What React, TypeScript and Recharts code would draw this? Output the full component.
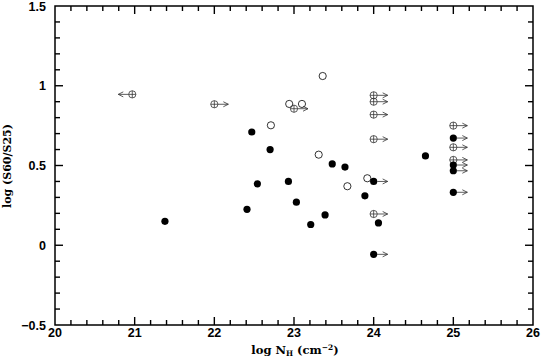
import { ScatterChart, Scatter, XAxis, YAxis, ReferenceArea } from "recharts";

type Pt = [number, number];

// log N_H vs log (S60/S25)
const detected: Pt[] = [
  [21.38, 0.15],
  [22.41, 0.225],
  [22.47, 0.71],
  [22.54, 0.385],
  [22.7, 0.6],
  [22.93, 0.4],
  [23.03, 0.27],
  [23.21, 0.13],
  [23.39, 0.19],
  [23.48, 0.51],
  [23.64, 0.49],
  [23.89, 0.31],
  [24.06, 0.14],
  [24.65, 0.56],
];

const detectedLower: Pt[] = [
  [24.0, 0.4],
  [24.0, -0.057],
  [25.0, 0.672],
  [25.0, 0.503],
  [25.0, 0.467],
  [25.0, 0.332],
];

const openPts: Pt[] = [
  [22.71, 0.752],
  [22.94, 0.886],
  [23.1, 0.886],
  [23.31, 0.568],
  [23.36, 1.061],
  [23.67, 0.37],
  [23.92, 0.42],
];

const crossedLower: Pt[] = [
  [22.0, 0.884],
  [23.0, 0.856],
  [24.0, 0.94],
  [24.0, 0.9],
  [24.0, 0.819],
  [24.0, 0.665],
  [24.0, 0.196],
  [25.0, 0.75],
  [25.0, 0.614],
  [25.0, 0.535],
];

const crossedUpper: Pt[] = [[20.97, 0.946]];

const X_DOMAIN: [number, number] = [20, 26];
const Y_DOMAIN: [number, number] = [-0.5, 1.5];
const xTickLabels = ["20", "21", "22", "23", "24", "25", "26"];
const yMajorTicks = [-0.5, 0, 0.5, 1, 1.5];
const yTickLabels = ["\u22120.5", "0", "0.5", "1", "1.5"];

const xTicks = Array.from({ length: 31 }, (_, i) => +(20 + i * 0.2).toFixed(1));
const yTicks = Array.from({ length: 21 }, (_, i) => +(-0.5 + i * 0.1).toFixed(1));

const toRows = (pts: Pt[]) => pts.map(([nh, r]) => ({ nh, r }));

const isMajorX = (v: number) => Math.abs(v - Math.round(v)) < 1e-6;
const majorYIndex = (v: number) => yMajorTicks.findIndex((m) => Math.abs(m - v) < 1e-6);

// inward tick marks on the top and right sides of the frame
const mirrorTicks = [
  ...xTicks.slice(1, -1).map((v) => ({ nh: v, r: Y_DOMAIN[1], dx: 0, dy: 1, major: isMajorX(v) })),
  ...yTicks.slice(1, -1).map((v) => ({ nh: X_DOMAIN[1], r: v, dx: -1, dy: 0, major: majorYIndex(v) >= 0 })),
];

const TICK_FONT = "'Liberation Sans', Arial, sans-serif";
const TITLE_FONT = "'DejaVu Serif', serif";
const R = 3.6;
const TICK_W = 1.4;

function XTick(props: any) {
  const x = Number(props.x);
  const y = Number(props.y);
  const v = Number(props.payload.value);
  const major = isMajorX(v);
  const edge = v <= X_DOMAIN[0] || v >= X_DOMAIN[1];
  return (
    <g>
      {!edge && <line x1={x} y1={y} x2={x} y2={y - (major ? 8 : 5)} stroke="#000" strokeWidth={TICK_W} />}
      {major && (
        <text x={x} y={y + 12} textAnchor="middle" fontFamily={TICK_FONT} fontWeight="bold" fontSize={12.5} fill="#000">
          {xTickLabels[Math.round(v) - 20]}
        </text>
      )}
    </g>
  );
}

function YTick(props: any) {
  const x = Number(props.x);
  const y = Number(props.y);
  const v = Number(props.payload.value);
  const mi = majorYIndex(v);
  const edge = v <= Y_DOMAIN[0] || v >= Y_DOMAIN[1];
  return (
    <g>
      {!edge && <line x1={x} y1={y} x2={x + (mi >= 0 ? 8 : 5)} y2={y} stroke="#000" strokeWidth={TICK_W} />}
      {mi >= 0 && (
        <text x={x - 9} y={y + 4.5} textAnchor="end" fontFamily={TICK_FONT} fontWeight="bold" fontSize={12.5} fill="#000">
          {yTickLabels[mi]}
        </text>
      )}
    </g>
  );
}

function TickMark(props: any) {
  const { cx, cy, payload } = props;
  if (cx == null || cy == null || !payload) return <g />;
  const len = payload.major ? 8 : 5;
  return (
    <line x1={cx} y1={cy} x2={cx + payload.dx * len} y2={cy + payload.dy * len} stroke="#000" strokeWidth={TICK_W} />
  );
}

function Arrow({ cx, cy, dir }: { cx: number; cy: number; dir: 1 | -1 }) {
  const tip = cx + dir * 14;
  return (
    <g stroke="#333" strokeWidth={0.8} fill="none">
      <line x1={cx + dir * R} y1={cy} x2={tip} y2={cy} />
      <polyline points={`${tip - dir * 5},${cy - 2.5} ${tip},${cy} ${tip - dir * 5},${cy + 2.5}`} />
    </g>
  );
}

function Marker(props: any & { kind: string; arrow?: 1 | -1 }) {
  const { cx, cy, kind, arrow } = props;
  if (cx == null || cy == null) return <g />;
  return (
    <g>
      {arrow ? <Arrow cx={cx} cy={cy} dir={arrow} /> : null}
      {kind === "filled" && <circle cx={cx} cy={cy} r={R} fill="#000" />}
      {kind === "open" && <circle cx={cx} cy={cy} r={R} fill="none" stroke="#000" strokeWidth={0.8} />}
      {kind === "crossed" && (
        <g stroke="#333" strokeWidth={0.8} fill="none">
          <circle cx={cx} cy={cy} r={R} />
          <line x1={cx - R} y1={cy} x2={cx + R} y2={cy} />
          <line x1={cx} y1={cy - R} x2={cx} y2={cy + R} />
        </g>
      )}
    </g>
  );
}

export default function App() {
  return (
    <div style={{ position: "absolute", left: 0, top: 0, background: "#fff" }}>
      <ScatterChart width={543} height={359} margin={{ top: 6, right: 10, bottom: 0, left: 0 }}>
        <XAxis
          dataKey="nh"
          type="number"
          domain={X_DOMAIN}
          ticks={xTicks}
          interval={0}
          height={34}
          tickSize={0}
          tickMargin={0}
          tickLine={false}
          axisLine={false}
          tick={(p: any) => <XTick {...p} />}
          label={{
            content: () => (
              <text x={295} y={354} textAnchor="middle" fontFamily={TITLE_FONT} fontWeight="bold" fontSize={11.5} fill="#000">
                log N<tspan fontSize={7.5} dy={2}>H</tspan>
                <tspan dy={-2}> (cm</tspan>
                <tspan fontSize={7.5} dy={-4.5}>{"\u22122"}</tspan>
                <tspan dy={4.5}>)</tspan>
              </text>
            ),
          }}
        />
        <YAxis
          dataKey="r"
          type="number"
          domain={Y_DOMAIN}
          ticks={yTicks}
          interval={0}
          width={55}
          tickSize={0}
          tickMargin={0}
          tickLine={false}
          axisLine={false}
          tick={(p: any) => <YTick {...p} />}
          label={{
            content: () => (
              <text
                x={11}
                y={166}
                transform="rotate(-90 11 166)"
                textAnchor="middle"
                fontFamily={TITLE_FONT}
                fontWeight="bold"
                fontSize={11}
                fill="#000"
              >
                log (S60/S25)
              </text>
            ),
          }}
        />
        <ReferenceArea
          x1={X_DOMAIN[0]}
          x2={X_DOMAIN[1]}
          y1={Y_DOMAIN[0]}
          y2={Y_DOMAIN[1]}
          fill="none"
          stroke="#000"
          strokeWidth={1.5}
        />
        <Scatter data={mirrorTicks} isAnimationActive={false} shape={(p: any) => <TickMark {...p} />} />
        <Scatter data={toRows(openPts)} isAnimationActive={false} shape={(p: any) => <Marker {...p} kind="open" />} />
        <Scatter
          data={toRows(crossedLower)}
          isAnimationActive={false}
          shape={(p: any) => <Marker {...p} kind="crossed" arrow={1} />}
        />
        <Scatter
          data={toRows(crossedUpper)}
          isAnimationActive={false}
          shape={(p: any) => <Marker {...p} kind="crossed" arrow={-1} />}
        />
        <Scatter data={toRows(detected)} isAnimationActive={false} shape={(p: any) => <Marker {...p} kind="filled" />} />
        <Scatter
          data={toRows(detectedLower)}
          isAnimationActive={false}
          shape={(p: any) => <Marker {...p} kind="filled" arrow={1} />}
        />
      </ScatterChart>
    </div>
  );
}
